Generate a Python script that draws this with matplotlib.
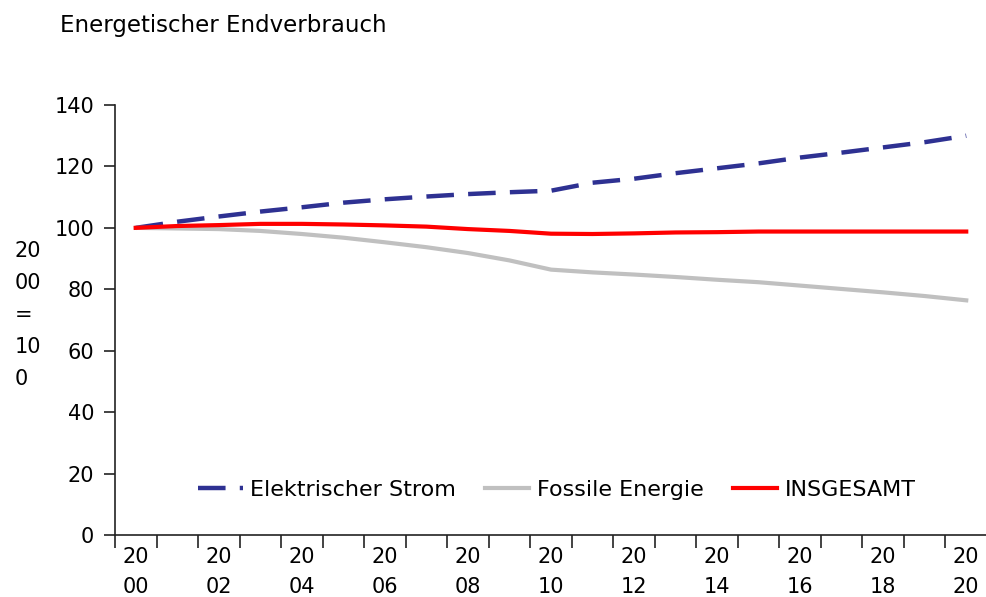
import matplotlib
matplotlib.use("Agg")
import matplotlib.pyplot as plt

years = list(range(2000, 2021))

strom = [100.0, 102.0, 103.7, 105.3, 106.7, 108.2, 109.3, 110.2, 111.0, 111.6,
         112.1, 114.7, 116.0, 117.8, 119.4, 121.0, 122.9, 124.5, 126.2, 127.9,
         130.0]
fossil = [100.0, 99.8, 99.6, 99.0, 98.0, 96.8, 95.3, 93.7, 91.8, 89.4,
          86.4, 85.5, 84.8, 84.0, 83.1, 82.3, 81.2, 80.1, 79.0, 77.8,
          76.4]
gesamt = [100.0, 100.6, 100.9, 101.3, 101.3, 101.1, 100.8, 100.4, 99.6, 99.0,
          98.1, 98.0, 98.2, 98.5, 98.6, 98.8, 98.8, 98.8, 98.8, 98.8,
          98.8]

tick_labels = [str(y)[:2] + "\n" + str(y)[2:] if (y - 2000) % 2 == 0 else ""
               for y in years]

plt.rcParams["font.family"] = ["DejaVu Sans"]
fs = 15

fig = plt.figure(figsize=(9.87, 5.97), dpi=100)
ax = fig.add_axes([0.1165, 0.1039, 0.8835, 0.7202])

x = list(range(len(years)))

ax.plot(x, strom, color="#2E3192", lw=3.2, dashes=(6.2, 3.2),
        label="Elektrischer Strom", dash_capstyle="butt")
ax.plot(x, fossil, color="#C0C0C0", lw=3, label="Fossile Energie")
ax.plot(x, gesamt, color="#FF0000", lw=3, label="INSGESAMT")

ax.set_xlim(-0.5, 20.45)
ax.set_ylim(0, 140)
ax.set_yticks(range(0, 141, 20))

# category axis: ticks between categories, labels at centres
ax.set_xticks([i - 0.5 for i in range(len(years) + 1)])
ax.set_xticklabels([])
ax.set_xticks(x, minor=True)
ax.set_xticklabels(tick_labels, minor=True, fontsize=fs,
                   linespacing=1.6)
ax.tick_params(axis="x", which="minor", length=0, pad=9)
ax.tick_params(axis="x", which="major", length=9, width=1.2,
               color="#222222")
ax.tick_params(axis="y", length=8, width=1.2, color="#222222",
               labelsize=fs, pad=7)

for s in ["top", "right"]:
    ax.spines[s].set_visible(False)
for s in ["left", "bottom"]:
    ax.spines[s].set_linewidth(1.2)
    ax.spines[s].set_color("#222222")

fig.text(0.015, 0.472, "20\n00\n=\n10\n0", fontsize=fs, ha="left",
         va="center", linespacing=1.75)
fig.text(0.061, 0.957, "Energetischer Endverbrauch", fontsize=16.5,
         ha="left", va="center")

ax.legend(loc="center", bbox_to_anchor=(0.507, 0.105), ncol=3,
          frameon=False, fontsize=16, handlelength=2.0,
          handletextpad=0.35, columnspacing=1.3)

fig.savefig("out.png", dpi=100)
